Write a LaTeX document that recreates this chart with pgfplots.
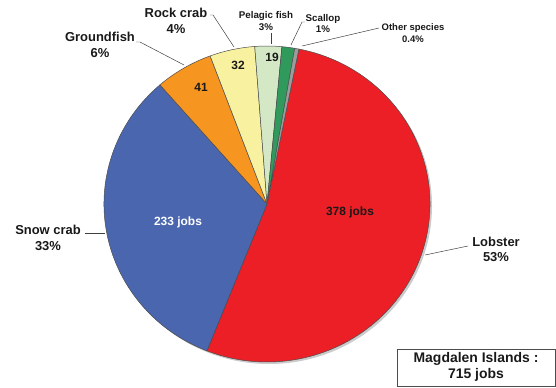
\documentclass[border=0pt]{standalone}
\usepackage{pgfplots}
\usepackage{pgfplotstable}
\pgfplotsset{compat=1.18}
\usepackage{fontspec}
\setmainfont{Liberation Sans}

\definecolor{cLobster}{HTML}{EC1F26}
\definecolor{cSnow}{HTML}{4A66AE}
\definecolor{cGround}{HTML}{F6951F}
\definecolor{cRock}{HTML}{F8F1A0}
\definecolor{cPelagic}{HTML}{D4E8C6}
\definecolor{cScallop}{HTML}{2F9A5C}
\definecolor{cOther}{HTML}{9C9C9C}

% Fishing jobs by species, Magdalen Islands
\pgfplotstableread{
name    value fill
Lobster 378   cLobster
Snow    233   cSnow
Ground  41    cGround
Rock    32    cRock
Pelagic 19    cPelagic
Scallop 9     cScallop
Other   3     cOther
}\jobs

\begin{document}
\begin{tikzpicture}
% total number of jobs
\def\total{0}
\pgfplotsforeachungrouped \i in {0,...,6}{%
  \pgfplotstablegetelem{\i}{value}\of\jobs
  \pgfmathsetmacro\total{\total+\pgfplotsretval}%
}
% slice angles, clockwise from the first slice
\def\acc{78.7}
\pgfplotsforeachungrouped \i in {0,...,6}{%
  \pgfplotstablegetelem{\i}{value}\of\jobs
  \let\v\pgfplotsretval
  \pgfplotstablegetelem{\i}{fill}\of\jobs
  \colorlet{slice\i}{\pgfplotsretval}%
  \expandafter\xdef\csname sa\i\endcsname{\acc}%
  \pgfmathsetmacro\acc{\acc-(\v/\total)*360}%
  \expandafter\xdef\csname ea\i\endcsname{\acc}%
}
\begin{axis}[
  x=1bp, y=1bp, xmin=0, xmax=556, ymin=0, ymax=387,
  scale only axis, hide axis, clip=false,
]
\path (axis cs:0,0) rectangle (axis cs:556,387);
% soft shadow
\fill[black!45, opacity=0.45] (axis cs:269,181) ellipse [x radius=163bp, y radius=158bp];
\pgfplotsinvokeforeach{0,...,6}{
  \filldraw[fill=slice#1, draw=black!70, line width=0.5pt, line join=round]
    (axis cs:267,183) -- ++(\csname sa#1\endcsname:163bp and 158bp)
    arc[start angle=\csname sa#1\endcsname, end angle=\csname ea#1\endcsname,
        x radius=163bp, y radius=158bp] -- cycle;
}
% leader lines
\draw[black!75, line width=0.5pt] (axis cs:136,345) -- (axis cs:140,345) -- (axis cs:184,322);
\draw[black!75, line width=0.5pt] (axis cs:210,372) -- (axis cs:213,372) -- (axis cs:234,340);
\draw[black!75, line width=0.5pt] (axis cs:271,354) -- (axis cs:271,343);
\draw[black!75, line width=0.5pt] (axis cs:305,365) -- (axis cs:302,365) -- (axis cs:291,342);
\draw[black!75, line width=0.5pt] (axis cs:379,359) -- (axis cs:302,341);
\draw[black!75, line width=0.5pt] (axis cs:85,154) -- (axis cs:105,154);
\draw[black!75, line width=0.5pt] (axis cs:468,141) -- (axis cs:425,132);
% category labels
\tikzset{lab/.style={align=center, inner sep=0pt, text=black!90, font=\bfseries\fontsize{13}{15.5}\selectfont},
         slab/.style={align=center, inner sep=0pt, text=black!90, font=\bfseries\fontsize{9.8}{12}\selectfont},
         val/.style={inner sep=0pt, text=black!90, font=\bfseries\fontsize{12}{14}\selectfont}}
\node[lab] at (axis cs:176,366) {Rock crab\\4\%};
\node[lab] at (axis cs:100,342) {Groundfish\\6\%};
\node[slab] at (axis cs:266,366) {Pelagic fish\\3\%};
\node[slab] at (axis cs:323,363.5) {Scallop\\1\%};
\node[slab, font=\bfseries\fontsize{9.5}{12}\selectfont] at (axis cs:413,354) {Other species\\0.4\%};
\node[lab] at (axis cs:48,149) {Snow crab\\33\%};
\node[lab] at (axis cs:496,137.5) {Lobster\\53\%};
% values inside the slices
\node[val] at (axis cs:350,175) {378 jobs};
\node[val, text=white] at (axis cs:178,165) {233 jobs};
\node[val] at (axis cs:201,300) {41};
\node[val] at (axis cs:238,322) {32};
\node[val] at (axis cs:272,330) {19};
% total
\draw[black!70, line width=0.8pt] (axis cs:397,1) rectangle (axis cs:555,38);
\node[align=center, inner sep=0pt, text=black!90, font=\bfseries\fontsize{14}{16}\selectfont] at (axis cs:476,20) {Magdalen Islands :\\715 jobs};
\end{axis}
\end{tikzpicture}
\end{document}
